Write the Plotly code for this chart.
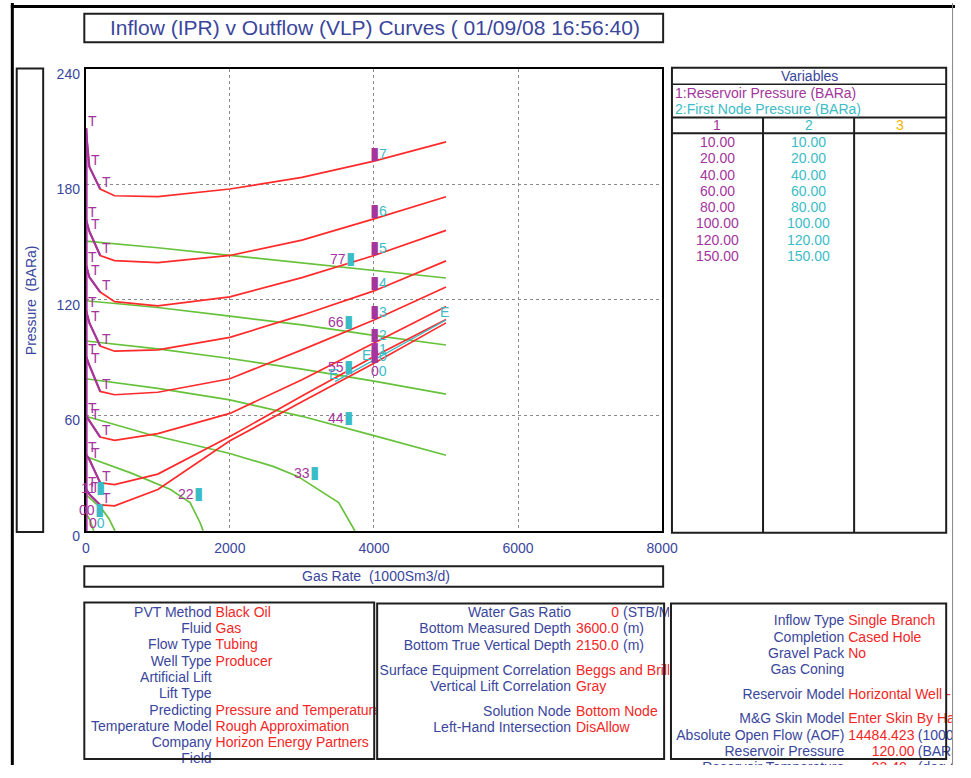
import numpy as np
import plotly.graph_objects as go

W, H = 971, 778

# ---------------- data ----------------
reservoir_pressure = [10, 20, 40, 60, 80, 100, 120, 150]   # variable 1 (BARa)
first_node_pressure = [10, 20, 40, 60, 80, 100, 120, 150]  # variable 2 (BARa)

x_ticks = [0, 2000, 4000, 6000, 8000]
y_ticks = [0, 60, 120, 180, 240]

# Outflow (VLP) curves: bottom-hole pressure (BARa) vs gas rate (1000Sm3/d)
vlp_rate = [0, 50, 200, 400, 1000, 2000, 3000, 4000, 5000]
vlp_p10 = [22, 19, 13.5, 13, 21.5, 46.8, 67, 87, 108]
vlp_p20 = [40, 37, 25, 24, 29.5, 49, 70, 90.5, 109.7]
vlp_p40 = [60, 57, 48.7, 47, 50.5, 61, 78.5, 97.6, 116.5]
vlp_p60 = [91, 86, 72.4, 70.7, 72, 79, 94, 109.5, 126.6]
vlp_p80 = [115, 108, 96, 93.3, 94, 100.5, 112, 124.6, 140.2]
vlp_p100 = [138.5, 131.7, 124, 119, 116.8, 121.5, 131.5, 143, 156]
vlp_p120 = [162, 155.5, 143, 140.3, 139.3, 143, 151, 162, 173.5]
vlp_p150 = [209, 189, 177.5, 174, 173.5, 177.5, 183.5, 192, 202]

# Inflow (IPR) curves: flowing pressure (BARa) vs gas rate (1000Sm3/d)
ipr_rate_10 = [0, 60, 110]
ipr_pwf_10 = [9.5, 5.5, 0]
ipr_rate_20 = [0, 224, 320, 405]
ipr_pwf_20 = [19, 11.3, 6.5, 0]
ipr_rate_40 = [0, 632, 1176, 1448, 1590, 1629]
ipr_pwf_40 = [38.6, 30, 21.5, 14.7, 4, 0]
ipr_rate_60 = [0, 860, 2000, 2600, 2943, 3510, 3735]
ipr_pwf_60 = [59.5, 50.3, 40.2, 33.5, 28.3, 14.7, 0]
ipr_rate_80 = [0, 1000, 2000, 3000, 4000, 5000]
ipr_pwf_80 = [79, 74, 68, 59.5, 49.5, 39.3]
ipr_rate_100 = [0, 1000, 2000, 3000, 4000, 5000]
ipr_pwf_100 = [98.6, 94.5, 89.5, 84, 77.8, 71]
ipr_rate_120 = [0, 1000, 2000, 3000, 4000, 5000]
ipr_pwf_120 = [119.5, 116, 111.5, 107, 101.5, 96.5]
ipr_rate_150 = [0, 1000, 2000, 3000, 4000, 5000]
ipr_pwf_150 = [150.4, 147, 143, 139, 135, 131.3]

# Erosional-velocity check line
erosion_rate = [3460, 3920, 5000]
erosion_p = [77.5, 87, 109.5]

# Gas rates where each IPR curve carries its case number
ipr_label_rate = [75, 102, 1448, 3058, 3530, 3530, 3530, 3568]

vlp_curves = [vlp_p10, vlp_p20, vlp_p40, vlp_p60, vlp_p80, vlp_p100, vlp_p120, vlp_p150]
ipr_curves = [(ipr_rate_10, ipr_pwf_10), (ipr_rate_20, ipr_pwf_20), (ipr_rate_40, ipr_pwf_40),
              (ipr_rate_60, ipr_pwf_60), (ipr_rate_80, ipr_pwf_80), (ipr_rate_100, ipr_pwf_100),
              (ipr_rate_120, ipr_pwf_120), (ipr_rate_150, ipr_pwf_150)]

# Report panels (label, value, unit)
panel1_labels = ["PVT Method", "Fluid", "Flow Type", "Well Type", "Artificial Lift", "Lift Type",
                 "Predicting", "Temperature Model", "Company", "Field"]
panel1_values = ["Black Oil", "Gas", "Tubing", "Producer", "", "",
                 "Pressure and Temperature", "Rough Approximation", "Horizon Energy Partners", ""]

panel2_labels = ["Water Gas Ratio", "Bottom Measured Depth", "Bottom True Vertical Depth",
                 "Surface Equipment Correlation", "Vertical Lift Correlation",
                 "Solution Node", "Left-Hand Intersection"]
panel2_values = ["", "3600.0", "2150.0", "Beggs and Brill", "Gray", "Bottom Node", "DisAllow"]
panel2_units = ["(STB/MMscf)", "(m)", "(m)", "", "", "", ""]
water_gas_ratio = "0"

panel3_labels = ["Inflow Type", "Completion", "Gravel Pack", "Gas Coning", "Reservoir Model",
                 "M&G Skin Model", "Absolute Open Flow (AOF)", "Reservoir Pressure",
                 "Reservoir Temperature"]
panel3_values = ["Single Branch", "Cased Hole", "No", "", "Horizontal Well - bounded system",
                 "Enter Skin By Hand", "14484.423", "", ""]
panel3_units = ["", "", "", "", "", "", "(1000Sm3/d)", "(BARa)", "(deg C)"]
panel3_padded = ["", "", "", "", "", "", "", "120.00", "93.40"]

# ---------------- style ----------------
FONT = "Liberation Sans, Arial, sans-serif"
BLUE = "#3a469c"
RED_TXT = "#f42626"
RED = "#ff2a2a"
GREEN = "#66c23a"
PURPLE = "#a3359d"
CYAN = "#3cbcc6"
ORANGE = "#f4b400"
FRAME = "#1e1e1e"
LW = 1.7
BLOCK = "▮"


def px(x):
    return x / W


def py(y):
    return 1 - y / H


fig = go.Figure()

# ---------------- main IPR / VLP plot ----------------
for rate, pwf in ipr_curves:
    fig.add_trace(go.Scatter(x=rate, y=pwf, mode="lines",
                             line=dict(color=GREEN, width=LW), hoverinfo="skip"))
for pwf in vlp_curves:
    fig.add_trace(go.Scatter(x=vlp_rate, y=pwf, mode="lines",
                             line=dict(color=RED, width=LW), hoverinfo="skip"))
fig.add_trace(go.Scatter(x=erosion_rate, y=erosion_p, mode="lines",
                         line=dict(color=CYAN, width=1.4), hoverinfo="skip"))

# tubing-head section of every VLP curve
fig.add_trace(go.Scatter(x=[12, 12], y=[0, vlp_p150[0]], mode="lines",
                         line=dict(color=PURPLE, width=2), hoverinfo="skip"))
for pwf in vlp_curves:
    fig.add_trace(go.Scatter(x=vlp_rate[:3], y=pwf[:3], mode="lines",
                             line=dict(color=PURPLE, width=2.2), hoverinfo="skip"))

ann = []
lab_font = dict(family=FONT, size=14)
for pwf in vlp_curves:
    for k in range(3):
        ann.append(dict(x=vlp_rate[k], y=pwf[k], xref="x", yref="y", text="T",
                        showarrow=False, xanchor="left", yanchor="middle", yshift=7,
                        font=dict(family=FONT, size=14, color=PURPLE)))

# case numbers on the VLP curves at 4000
for i, pwf in enumerate(vlp_curves):
    yv = float(np.interp(4000, vlp_rate, pwf))
    txt = (f'<span style="color:{PURPLE};font-size:17px">{BLOCK}</span>'
           f'<span style="color:{CYAN}">{i}</span>')
    ann.append(dict(x=4000, y=yv, xref="x", yref="y", text=txt, showarrow=False,
                    xanchor="left", yanchor="middle", xshift=-6, yshift=8, font=lab_font))
y0 = float(np.interp(4000, vlp_rate, vlp_p10))
ann.append(dict(x=4000, y=y0, xref="x", yref="y", showarrow=False, xanchor="left",
                yanchor="middle", xshift=-5, yshift=-8, font=lab_font,
                text=f'<span style="color:{PURPLE}">0</span><span style="color:{CYAN}">0</span>'))

# case numbers on the IPR curves
for i, ((rate, pwf), r) in enumerate(zip(ipr_curves, ipr_label_rate)):
    yv = float(np.interp(r, rate, pwf))
    shift = 14 if i < 2 else 9
    txt = (f'<span style="color:{PURPLE}">{i}{i}</span>'
           f'<span style="color:{CYAN};font-size:17px">{BLOCK}</span>')
    ann.append(dict(x=r, y=yv, xref="x", yref="y", text=txt, showarrow=False,
                    xanchor="center", yanchor="middle", yshift=shift, font=lab_font))
ann.append(dict(x=20, y=0, xref="x", yref="y", showarrow=False, xanchor="left",
                yanchor="middle", yshift=8, font=lab_font,
                text=f'<span style="color:{PURPLE}">0</span><span style="color:{CYAN}">0</span>'))

# erosional velocity markers
for r, p in zip(erosion_rate, erosion_p):
    ann.append(dict(x=r, y=p, xref="x", yref="y", text="E", showarrow=False,
                    xanchor="center", yanchor="middle", xshift=-2, yshift=8,
                    font=dict(family=FONT, size=14, color=CYAN)))

# ---------------- frames and titles ----------------
shapes = []


def box(x0, y0, x1, y1, width=2, color=FRAME):
    shapes.append(dict(type="rect", xref="paper", yref="paper",
                       x0=px(x0), x1=px(x1), y0=py(y1), y1=py(y0),
                       line=dict(color=color, width=width), fillcolor="rgba(0,0,0,0)",
                       layer="above"))


def hline(x0, x1, y, width=2, color=FRAME):
    shapes.append(dict(type="line", xref="paper", yref="paper", x0=px(x0), x1=px(x1),
                       y0=py(y), y1=py(y), line=dict(color=color, width=width)))


def vline(x, y0, y1, width=2, color=FRAME):
    shapes.append(dict(type="line", xref="paper", yref="paper", x0=px(x), x1=px(x),
                       y0=py(y0), y1=py(y1), line=dict(color=color, width=width)))


# page frame
vline(8.5, 0, H, width=3, color="#000000")
hline(7, W, 3.5, width=3, color="#000000")
vline(968.5, 0, H, width=1, color="#888888")

# title
box(82, 11, 673, 40)
ann.append(dict(x=px(379), y=py(25.5), xref="paper", yref="paper", showarrow=False,
                text="Inflow (IPR) v Outflow (VLP) Curves ( 01/09/08 16:56:40)",
                xanchor="center", yanchor="middle",
                font=dict(family=FONT, size=21, color=BLUE)))

# axis title boxes
box(13, 67, 40, 540)
ann.append(dict(x=px(27), y=py(303), xref="paper", yref="paper", showarrow=False,
                text="Pressure  (BARa)", textangle=-90, xanchor="center", yanchor="middle",
                font=dict(family=FONT, size=14, color=BLUE)))
box(82, 575, 673, 596)
ann.append(dict(x=px(380), y=py(585.5), xref="paper", yref="paper", showarrow=False,
                text="Gas Rate  (1000Sm3/d)", xanchor="center", yanchor="middle",
                font=dict(family=FONT, size=14, color=BLUE)))

# ---------------- variables table ----------------
T_X0, T_X1 = 682, 962
C1, C2 = 775, 868
box(T_X0, 66, T_X1, 541)
hline(T_X0, T_X1, 83, width=1.5)
hline(T_X0, T_X1, 117, width=2)
hline(T_X0, T_X1, 133, width=2)
vline(C1, 117, 541, width=2)
vline(C2, 117, 541, width=2)
tfont = 14
ann.append(dict(x=px((T_X0 + T_X1) / 2), y=py(75), xref="paper", yref="paper", showarrow=False,
                text="Variables", xanchor="center", yanchor="middle",
                font=dict(family=FONT, size=tfont, color=BLUE)))
ann.append(dict(x=px(683), y=py(92), xref="paper", yref="paper", showarrow=False,
                text="1:Reservoir Pressure (BARa)", xanchor="left", yanchor="middle",
                font=dict(family=FONT, size=tfont, color=PURPLE)))
ann.append(dict(x=px(683), y=py(108.5), xref="paper", yref="paper", showarrow=False,
                text="2:First Node Pressure (BARa)", xanchor="left", yanchor="middle",
                font=dict(family=FONT, size=tfont, color=CYAN)))
for cx, t, c in [((T_X0 + C1) / 2, "1", PURPLE), ((C1 + C2) / 2, "2", CYAN),
                 ((C2 + T_X1) / 2, "3", ORANGE)]:
    ann.append(dict(x=px(cx), y=py(125), xref="paper", yref="paper", showarrow=False,
                    text=t, xanchor="center", yanchor="middle",
                    font=dict(family=FONT, size=tfont, color=c)))
for j, (p1, p2) in enumerate(zip(reservoir_pressure, first_node_pressure)):
    yy = 142 + j * 16.6
    ann.append(dict(x=px((T_X0 + C1) / 2), y=py(yy), xref="paper", yref="paper", showarrow=False,
                    text=f"{p1:.2f}", xanchor="center", yanchor="middle",
                    font=dict(family=FONT, size=tfont, color=PURPLE)))
    ann.append(dict(x=px((C1 + C2) / 2), y=py(yy), xref="paper", yref="paper", showarrow=False,
                    text=f"{p2:.2f}", xanchor="center", yanchor="middle",
                    font=dict(family=FONT, size=tfont, color=CYAN)))

# ---------------- report panels (text clipped to each panel's width) ----------------
box(82, 612, 378, 772)
box(381, 613, 674, 772)
box(681, 613, 962, 772)

panels = [(2, 82, 380), (3, 381, 679), (4, 681, 968)]
layout_axes = {}
for idx, x0, x1 in panels:
    layout_axes[f"xaxis{idx}"] = dict(domain=[px(x0), px(x1)], range=[x0, x1], visible=False,
                                      fixedrange=True, anchor=f"y{idx}")
    layout_axes[f"yaxis{idx}"] = dict(domain=[0, py(600)], range=[H, 600], visible=False,
                                      fixedrange=True, anchor=f"x{idx}")

pfont = 14


def panel_text(idx, xs, ys, texts, color, pos):
    fig.add_trace(go.Scatter(x=xs, y=ys, text=texts, mode="text", textposition=pos,
                             textfont=dict(family=FONT, size=pfont, color=color),
                             xaxis=f"x{idx}", yaxis=f"y{idx}", cliponaxis=True,
                             hoverinfo="skip"))


rows1 = [623.3 + i * 16.6 for i in range(len(panel1_labels))]
panel_text(2, [212] * len(rows1), rows1, panel1_labels, BLUE, "middle left")
panel_text(2, [216] * len(rows1), rows1, panel1_values, RED_TXT, "middle right")

rows2 = [623.3, 640, 656.7, 682.7, 699.3, 724, 740.6]
panel_text(3, [579] * len(rows2), rows2, panel2_labels, BLUE, "middle left")
panel_text(3, [584] * len(rows2), rows2, panel2_values, RED_TXT, "middle right")
panel_text(3, [620], [rows2[0]], [water_gas_ratio], RED_TXT, "middle right")
panel_text(3, [632] * len(rows2), rows2, panel2_units, BLUE, "middle right")

rows3 = [632, 648.7, 665.3, 682, 707, 732, 748.6, 765.2, 781.8]
panel_text(4, [858] * len(rows3), rows3, panel3_labels, BLUE, "middle left")
panel_text(4, [862] * len(rows3), rows3, panel3_values, RED_TXT, "middle right")
panel_text(4, [886] * len(rows3), rows3, panel3_padded, RED_TXT, "middle right")
panel_text(4, [933] * len(rows3), rows3, panel3_units, BLUE, "middle right")

# ---------------- layout ----------------
fig.update_layout(
    width=W, height=H, margin=dict(l=0, r=0, t=0, b=0),
    paper_bgcolor="white", plot_bgcolor="white", showlegend=False,
    xaxis=dict(domain=[px(83.5), px(672)], range=[0, 8000], tickvals=x_ticks,
               ticktext=[str(v) for v in x_ticks], showgrid=True, gridcolor="#8a8a8a",
               griddash="dot", gridwidth=1, zeroline=False, showline=True, mirror=True,
               linecolor="#000000", linewidth=2, ticks="", ticklabelstandoff=3,
               tickfont=dict(family=FONT, size=14, color=BLUE), fixedrange=True),
    yaxis=dict(domain=[py(539), py(67)], range=[0, 240], tickvals=y_ticks,
               ticktext=[str(v) for v in y_ticks], showgrid=True, gridcolor="#8a8a8a",
               griddash="dot", gridwidth=1, zeroline=False, showline=True, mirror=True,
               linecolor="#000000", linewidth=2, ticks="", ticklabelstandoff=1,
               ticklabelshift=5, tickfont=dict(family=FONT, size=14, color=BLUE),
               fixedrange=True),
    shapes=shapes, annotations=ann,
    **layout_axes,
)

fig.write_html("out.html")
